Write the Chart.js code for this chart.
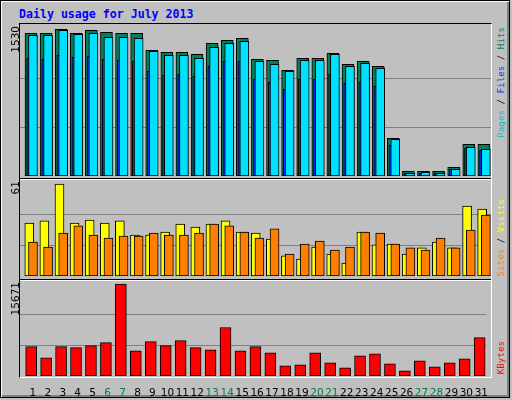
<!DOCTYPE html>
<html><head><meta charset="utf-8">
<script src="https://cdn.jsdelivr.net/npm/chart.js@4/dist/chart.umd.min.js"></script>
<style>
html,body{margin:0;padding:0;}
body{width:512px;height:400px;background:#c0c0c0;position:relative;overflow:hidden;}
#outer{position:absolute;left:0;top:0;width:508px;height:396px;border:1px solid #000;box-shadow:inset 1px 1px 0 #fff,inset -2px -2px 0 #808080;}
.abs{position:absolute;}
#title{left:19px;top:7px;font:bold 11.6px "DejaVu Sans Mono",monospace;color:#0000ff;}
#frame{left:19px;top:23px;width:471px;height:353px;border-top:1px solid #000;border-left:1px solid #000;border-right:1px solid #fff;border-bottom:1px solid #fff;}
.sep{left:20px;width:471px;height:1px;background:#000;}
.sepw{left:20px;width:471px;height:1px;background:#fff;}
.vt{writing-mode:vertical-rl;transform:rotate(180deg);white-space:nowrap;font:9.2px "DejaVu Sans Mono",monospace;}
.num{font:10.5px "DejaVu Sans",sans-serif;color:#000;}
</style></head><body>
<div id="outer"></div>
<div id="title" class="abs">Daily usage for July 2013</div>
<div id="frame" class="abs"></div>
<div class="abs sep" style="top:178px"></div><div class="abs sepw" style="top:179px"></div>
<div class="abs sep" style="top:279px"></div><div class="abs sepw" style="top:280px"></div>
<div class="abs" style="left:20px;top:25px;width:471px;height:151px"><canvas id="c1"></canvas></div>
<div class="abs" style="left:20px;top:181px;width:471px;height:95px"><canvas id="c2"></canvas></div>
<div class="abs" style="left:20px;top:281px;width:471px;height:117px"><canvas id="c3"></canvas></div>
<div class="abs vt num" style="left:9px;top:26px">1530</div>
<div class="abs vt num" style="left:9px;top:181px">61</div>
<div class="abs vt num" style="left:9px;top:282px">15671</div>
<div class="abs vt" style="left:495px;top:27px"><span style="color:#00c0d0">Pages</span><span style="color:#000"> / </span><span style="color:#0040ff">Files</span><span style="color:#000"> / </span><span style="color:#00805c">Hits</span></div>
<div class="abs vt" style="left:495px;top:199px"><span style="color:#ff8000">Sites</span><span style="color:#000"> / </span><span style="color:#ffff00">Visits</span></div>
<div class="abs vt" style="left:495px;top:341px"><span style="color:#ff0000">KBytes</span></div>
<script>
const days=[1,2,3,4,5,6,7,8,9,10,11,12,13,14,15,16,17,18,19,20,21,22,23,24,25,26,27,28,29,30,31];
const weekendDays=[6,7,13,14,20,21,27,28];
const hits=[1485,1485,1527,1485,1517,1496,1485,1485,1308,1287,1287,1267,1381,1412,1433,1215,1204,1100,1225,1225,1277,1163,1194,1142,392,49,49,49,90,330,330];
const files=[1465,1465,1517,1475,1485,1444,1444,1433,1298,1256,1256,1225,1340,1381,1402,1194,1163,1090,1204,1204,1267,1142,1173,1121,382,28,38,28,70,299,278];
const pages=[1225,1215,1256,1235,1246,1215,1204,1194,1090,1048,1059,1038,1142,1194,1194,1007,975,903,1007,1007,1059,965,975,934,320,28,28,28,70,288,268];
const visits=[35.1,36.5,61,35.1,37.1,35.1,36.5,27.2,27.2,29.2,34.5,32.5,34.5,36.5,29.2,28.5,24.5,13.3,11.3,19.2,14.6,8.6,29.2,20.6,21.2,14.6,18.6,22.5,18.6,46.4,44.4];
const sites=[22.5,19.2,28.5,33.2,27.2,25.2,26.5,26.5,28.5,27.2,27.2,28.5,34.5,33.2,29.2,25.2,31.2,14.6,21.2,23.2,17.2,19.2,29.2,28.5,21.2,18.6,17.2,25.2,18.6,30.5,40.4];
const kbytes=[4994,3100,4994,4822,5166,5683,15671,4305,5855,5166,6027,4822,4477,8266,4305,4994,3961,1722,1894,3961,2239,1378,3444,3788,2066,861,2583,1550,2239,2927,6544];
const maxHits=1530,maxVisits=61,maxKB=15671;

const pitch=471/31.2;
const pts=(vals,dx)=>vals.map((v,i)=>({x:days[i]+dx/pitch,y:v}));
function ds(label,vals,dx,w,color,order){
  return {label,data:pts(vals,dx),barThickness:w,backgroundColor:color,borderColor:'#000',borderWidth:1,borderSkipped:false,grouped:false,order};
}
function opts(top,showX){
  const x={type:'linear',min:0.14,max:31.34,offset:false,display:showX,
        grid:{display:false},border:{display:false},
        afterBuildTicks:s=>{s.ticks=days.map(d=>({value:d}));},
        ticks:{padding:3,autoSkip:false,maxRotation:0,font:{family:'DejaVu Sans',size:10.5},
          color:c=>weekendDays.includes(days[c.index])?'#008040':'#000'}};
  if(showX) x.afterFit=s=>{s.height=22;};
  return {responsive:true,maintainAspectRatio:false,animation:false,
    layout:{padding:0},
    plugins:{legend:{display:false},tooltip:{enabled:false}},
    scales:{
      x,
      y:{min:0,max:top.max,display:true,
        afterBuildTicks:s=>{s.ticks=[{value:top.ref/3},{value:2*top.ref/3}];},
        afterFit:s=>{s.width=0;},
        ticks:{display:false},border:{display:false},
        grid:{color:'#808080',lineWidth:1,drawTicks:false}}
    }};
}
new Chart(document.getElementById('c1'),{type:'bar',data:{datasets:[
  ds('Hits',hits,-2,12,'#00805c',3),
  ds('Pages',pages,-4.8,3,'#0040ff',2),
  ds('Files',files,0,9,'#00e0ff',1)]},options:opts({max:maxHits*151/147,ref:maxHits},false)});
new Chart(document.getElementById('c2'),{type:'bar',data:{datasets:[
  ds('Visits',visits,-3.7,9,'#ffff00',2),
  ds('Sites',sites,0,9,'#ff8000',1)]},options:opts({max:maxVisits*95/92,ref:maxVisits},false)});
new Chart(document.getElementById('c3'),{type:'bar',data:{datasets:[
  ds('KBytes',kbytes,-1.7,11,'#ff0000',1)]},options:opts({max:maxKB*94/91,ref:maxKB},true)});
</script>
</body></html>
